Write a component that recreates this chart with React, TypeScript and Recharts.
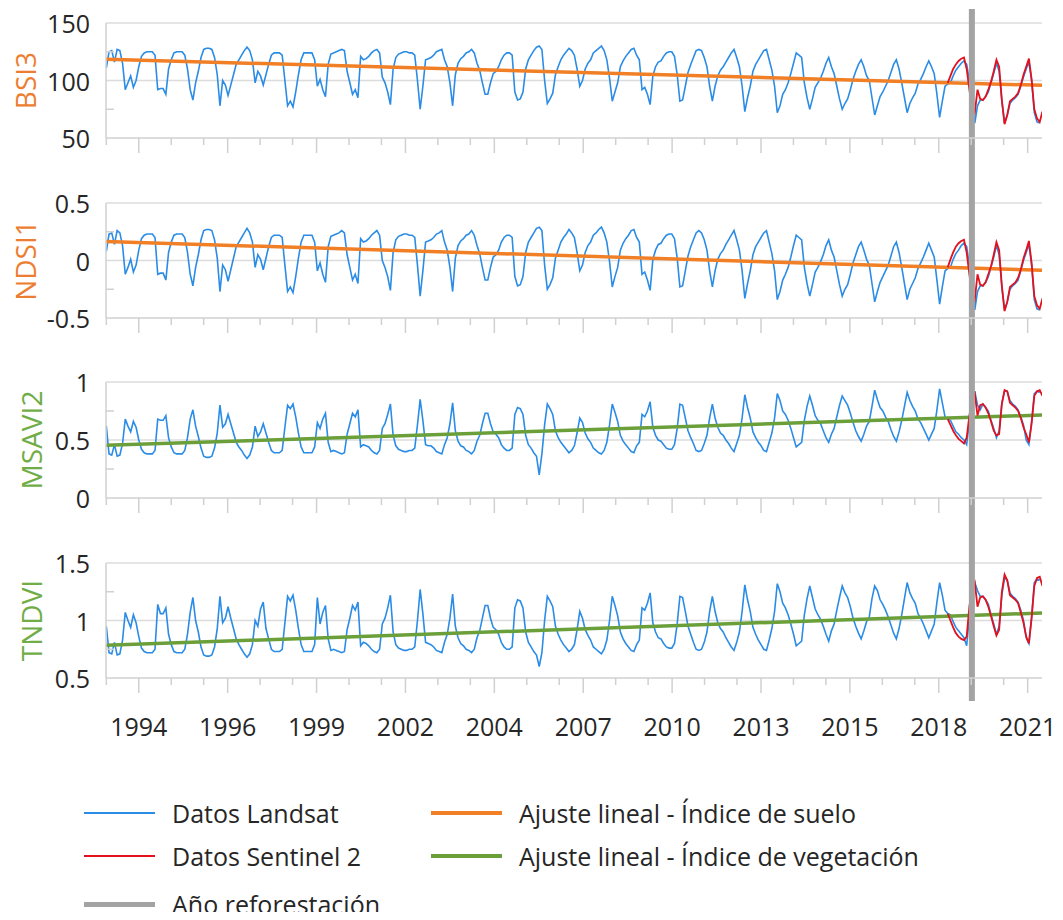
import React from "react";
import { LineChart, Line, XAxis, YAxis, CartesianGrid, ReferenceLine } from "recharts";

// monthly samples, Landsat from Jan 1993, Sentinel 2 from Dec 2018
const LANDSAT_START = 1993;
const SENTINEL_START = 2018 + 11 / 12;
const REFORESTATION_YEAR = 2019.66;

const bsi3Landsat = [
  111, 125, 126, 116, 127, 126, 115, 92, 98, 104, 94, 100,
  112, 121, 124, 125, 125, 125, 122, 92, 93, 93, 88, 110,
  118, 124, 125, 125, 125, 122, 110, 92, 83, 98, 108, 120,
  127, 128, 128, 127, 120, 105, 78, 100, 96, 87, 96, 105,
  114, 118, 122, 126, 129, 126, 118, 98, 108, 104, 96, 105,
  114, 122, 124, 124, 124, 122, 100, 78, 82, 77, 90, 105,
  118, 124, 124, 124, 124, 118, 95, 101, 92, 86, 114, 123,
  124, 125, 126, 127, 126, 108, 98, 88, 92, 85, 121, 118,
  119, 121, 124, 126, 127, 124, 103, 98, 90, 79, 110, 120,
  123, 124, 125, 125, 124, 124, 122, 100, 75, 95, 118, 119,
  120, 122, 125, 126, 127, 118, 112, 98, 78, 105, 115, 119,
  121, 124, 125, 127, 124, 115, 109, 98, 88, 88, 98, 106,
  108, 112, 118, 122, 124, 124, 122, 90, 83, 84, 90, 110,
  118, 122, 126, 129, 130, 127, 100, 80, 84, 89, 105, 112,
  118, 122, 125, 128, 126, 122, 110, 95, 100, 110, 115, 118,
  124, 126, 128, 130, 126, 118, 102, 82, 90, 98, 112, 117,
  121, 124, 127, 128, 122, 118, 92, 94, 88, 79, 104, 112,
  116, 117, 121, 124, 125, 125, 121, 105, 82, 83, 95, 107,
  114, 120, 126, 127, 126, 120, 112, 95, 82, 95, 104, 109,
  112, 116, 120, 124, 127, 120, 112, 95, 73, 85, 95, 108,
  114, 118, 122, 126, 127, 118, 109, 95, 72, 78, 88, 92,
  98, 106, 115, 124, 122, 120, 98, 85, 75, 84, 94, 98,
  102, 108, 115, 120, 112, 106, 95, 84, 75, 80, 84, 92,
  101, 108, 114, 118, 112, 104, 100, 85, 70, 78, 86, 90,
  95, 100, 107, 114, 118, 110, 98, 85, 72, 80, 85, 89,
  97, 101, 106, 112, 117, 112, 106, 88, 68, 82, 95, 97,
  98, 104, 109, 112, 115, 117, 114, 100, 83, 63, 78, 83,
  83, 86, 90, 98, 106, 115, 108, 82, 63, 70, 80, 83,
  85, 88, 95, 103, 110, 116, 100, 72, 64, 63,
];

const ndsi1Landsat = [
  0.08, 0.23, 0.24, 0.14, 0.26, 0.24, 0.13, -0.12, -0.06, 0.01, -0.1, -0.04,
  0.09, 0.19, 0.22, 0.23, 0.23, 0.23, 0.2, -0.12, -0.11, -0.11, -0.17, 0.07,
  0.16, 0.22, 0.23, 0.23, 0.23, 0.2, 0.07, -0.12, -0.22, -0.06, 0.05, 0.18,
  0.26, 0.27, 0.27, 0.26, 0.18, 0.02, -0.27, -0.04, -0.08, -0.18, -0.08, 0.02,
  0.12, 0.16, 0.2, 0.24, 0.28, 0.24, 0.16, -0.06, 0.05, 0.01, -0.08, 0.02,
  0.12, 0.2, 0.22, 0.22, 0.22, 0.2, -0.04, -0.27, -0.23, -0.28, -0.14, 0.02,
  0.16, 0.22, 0.22, 0.22, 0.22, 0.16, -0.09, -0.02, -0.12, -0.19, 0.12, 0.21,
  0.22, 0.23, 0.24, 0.26, 0.24, 0.05, -0.06, -0.17, -0.12, -0.2, 0.19, 0.16,
  0.17, 0.19, 0.22, 0.24, 0.26, 0.22, 0.0, -0.06, -0.14, -0.26, 0.07, 0.18,
  0.21, 0.22, 0.23, 0.23, 0.22, 0.22, 0.2, -0.04, -0.31, -0.09, 0.16, 0.17,
  0.18, 0.2, 0.23, 0.24, 0.26, 0.16, 0.09, -0.06, -0.27, 0.02, 0.13, 0.17,
  0.19, 0.22, 0.23, 0.26, 0.22, 0.13, 0.06, -0.06, -0.17, -0.17, -0.06, 0.03,
  0.05, 0.09, 0.16, 0.2, 0.22, 0.22, 0.2, -0.14, -0.22, -0.21, -0.14, 0.07,
  0.16, 0.2, 0.24, 0.28, 0.29, 0.26, -0.04, -0.25, -0.21, -0.15, 0.02, 0.09,
  0.16, 0.2, 0.23, 0.27, 0.24, 0.2, 0.07, -0.09, -0.04, 0.07, 0.13, 0.16,
  0.22, 0.24, 0.27, 0.29, 0.24, 0.16, -0.01, -0.23, -0.14, -0.06, 0.09, 0.15,
  0.19, 0.22, 0.26, 0.27, 0.2, 0.16, -0.12, -0.1, -0.17, -0.26, 0.01, 0.09,
  0.14, 0.15, 0.19, 0.22, 0.23, 0.23, 0.19, 0.02, -0.23, -0.22, -0.09, 0.04,
  0.12, 0.18, 0.24, 0.26, 0.24, 0.18, 0.09, -0.09, -0.23, -0.09, 0.01, 0.06,
  0.09, 0.14, 0.18, 0.22, 0.26, 0.18, 0.09, -0.09, -0.33, -0.2, -0.09, 0.05,
  0.12, 0.16, 0.2, 0.24, 0.26, 0.16, 0.06, -0.09, -0.34, -0.27, -0.17, -0.12,
  -0.06, 0.03, 0.13, 0.22, 0.2, 0.18, -0.06, -0.2, -0.31, -0.21, -0.1, -0.06,
  -0.01, 0.05, 0.13, 0.18, 0.09, 0.03, -0.09, -0.21, -0.31, -0.25, -0.21, -0.12,
  -0.02, 0.05, 0.12, 0.16, 0.09, 0.01, -0.04, -0.2, -0.36, -0.27, -0.19, -0.14,
  -0.09, -0.04, 0.04, 0.12, 0.16, 0.07, -0.06, -0.2, -0.34, -0.25, -0.2, -0.15,
  -0.07, -0.02, 0.03, 0.09, 0.15, 0.09, 0.03, -0.17, -0.38, -0.23, -0.09, -0.07,
  -0.06, 0.01, 0.06, 0.09, 0.13, 0.15, 0.12, -0.04, -0.22, -0.43, -0.27, -0.22,
  -0.22, -0.19, -0.14, -0.06, 0.03, 0.13, 0.05, -0.23, -0.43, -0.36, -0.25, -0.22,
  -0.2, -0.17, -0.09, 0.0, 0.07, 0.14, -0.04, -0.34, -0.42, -0.43,
];

const msavi2Landsat = [
  0.62, 0.38, 0.37, 0.46, 0.36, 0.37, 0.47, 0.68, 0.62, 0.57, 0.66, 0.61,
  0.5, 0.42, 0.39, 0.38, 0.38, 0.38, 0.41, 0.68, 0.67, 0.67, 0.71, 0.52,
  0.44, 0.39, 0.38, 0.38, 0.38, 0.41, 0.52, 0.68, 0.76, 0.62, 0.53, 0.43,
  0.36, 0.35, 0.35, 0.36, 0.43, 0.56, 0.8, 0.61, 0.64, 0.72, 0.64, 0.56,
  0.48, 0.44, 0.41, 0.37, 0.34, 0.37, 0.44, 0.62, 0.53, 0.57, 0.64, 0.56,
  0.48, 0.41, 0.39, 0.39, 0.39, 0.41, 0.61, 0.8, 0.77, 0.81, 0.7, 0.56,
  0.44, 0.39, 0.39, 0.39, 0.39, 0.44, 0.65, 0.6, 0.68, 0.73, 0.48, 0.4,
  0.41, 0.4, 0.39, 0.38, 0.39, 0.55, 0.64, 0.73, 0.7, 0.76, 0.44, 0.46,
  0.45, 0.44, 0.41, 0.39, 0.38, 0.41, 0.6, 0.64, 0.72, 0.81, 0.54, 0.45,
  0.42, 0.41, 0.4, 0.4, 0.41, 0.41, 0.43, 0.63, 0.85, 0.67, 0.46, 0.45,
  0.45, 0.43, 0.4, 0.39, 0.38, 0.46, 0.52, 0.64, 0.82, 0.58, 0.49, 0.45,
  0.44, 0.41, 0.4, 0.38, 0.41, 0.49, 0.54, 0.64, 0.73, 0.73, 0.64, 0.57,
  0.55, 0.52, 0.46, 0.43, 0.41, 0.41, 0.43, 0.72, 0.78, 0.77, 0.72, 0.54,
  0.46, 0.43, 0.39, 0.36, 0.2, 0.38, 0.63, 0.81, 0.77, 0.72, 0.58, 0.52,
  0.48, 0.45, 0.42, 0.39, 0.41, 0.45, 0.56, 0.69, 0.65, 0.56, 0.51, 0.48,
  0.43, 0.41, 0.39, 0.38, 0.41, 0.48, 0.63, 0.81, 0.74, 0.66, 0.54, 0.49,
  0.46, 0.43, 0.4, 0.39, 0.45, 0.48, 0.72, 0.7, 0.75, 0.83, 0.61, 0.54,
  0.5, 0.49, 0.46, 0.43, 0.42, 0.42, 0.46, 0.6, 0.81, 0.8, 0.69, 0.58,
  0.52, 0.47, 0.41, 0.4, 0.41, 0.47, 0.54, 0.69, 0.81, 0.69, 0.61, 0.56,
  0.54, 0.5, 0.47, 0.43, 0.4, 0.47, 0.54, 0.69, 0.89, 0.78, 0.69, 0.57,
  0.52, 0.48, 0.45, 0.41, 0.4, 0.48, 0.56, 0.69, 0.9, 0.84, 0.75, 0.72,
  0.67, 0.6, 0.52, 0.44, 0.46, 0.48, 0.67, 0.79, 0.88, 0.8, 0.71, 0.67,
  0.64, 0.58, 0.52, 0.48, 0.55, 0.6, 0.7, 0.8, 0.88, 0.84, 0.8, 0.73,
  0.65, 0.58, 0.53, 0.49, 0.55, 0.62, 0.66, 0.79, 0.93, 0.85, 0.78, 0.75,
  0.7, 0.66, 0.59, 0.53, 0.49, 0.57, 0.67, 0.79, 0.91, 0.84, 0.79, 0.75,
  0.68, 0.65, 0.6, 0.55, 0.5, 0.55, 0.6, 0.76, 0.94, 0.82, 0.7, 0.68,
  0.67, 0.62, 0.57, 0.55, 0.52, 0.5, 0.46, 0.66, 0.81, 0.92, 0.8, 0.76,
  0.81, 0.78, 0.75, 0.67, 0.6, 0.52, 0.58, 0.82, 0.92, 0.92, 0.84, 0.81,
  0.79, 0.76, 0.7, 0.63, 0.5, 0.46, 0.66, 0.9, 0.92, 0.91,
];

const tndviLandsat = [
  0.95, 0.72, 0.71, 0.81, 0.7, 0.71, 0.83, 1.07, 1.0, 0.94, 1.05, 0.98,
  0.86, 0.76, 0.73, 0.72, 0.72, 0.72, 0.75, 1.14, 1.06, 1.06, 1.11, 0.88,
  0.79, 0.73, 0.72, 0.72, 0.72, 0.75, 0.88, 1.07, 1.2, 1.0, 0.9, 0.77,
  0.7, 0.69, 0.69, 0.7, 0.77, 0.93, 1.21, 0.98, 1.02, 1.12, 1.02, 0.93,
  0.84, 0.79, 0.75, 0.71, 0.68, 0.71, 0.79, 1.0, 0.95, 1.1, 1.16, 0.93,
  0.84, 0.75, 0.73, 0.73, 0.73, 0.75, 0.98, 1.21, 1.17, 1.22, 1.09, 0.93,
  0.79, 0.73, 0.73, 0.73, 0.73, 0.79, 1.2, 0.97, 1.07, 1.13, 0.84, 0.74,
  0.75, 0.74, 0.73, 0.72, 0.73, 0.92, 1.02, 1.13, 1.09, 1.16, 0.78, 0.81,
  0.8, 0.78, 0.75, 0.73, 0.72, 0.75, 0.97, 1.02, 1.11, 1.22, 0.9, 0.79,
  0.76, 0.75, 0.74, 0.74, 0.75, 0.75, 0.77, 1.0, 1.27, 1.06, 0.81, 0.8,
  0.79, 0.77, 0.74, 0.73, 0.72, 0.81, 0.88, 1.02, 1.23, 0.95, 0.85, 0.8,
  0.78, 0.75, 0.74, 0.72, 0.75, 0.85, 0.91, 1.02, 1.13, 1.13, 1.02, 0.94,
  0.92, 0.88, 0.81, 0.77, 0.75, 0.75, 0.77, 1.11, 1.18, 1.17, 1.11, 0.9,
  0.81, 0.77, 0.73, 0.7, 0.6, 0.72, 1.0, 1.21, 1.17, 1.12, 0.95, 0.88,
  0.83, 0.79, 0.76, 0.73, 0.75, 0.79, 0.92, 1.08, 1.02, 0.92, 0.87, 0.83,
  0.77, 0.75, 0.73, 0.71, 0.75, 0.83, 1.0, 1.21, 1.13, 1.04, 0.9, 0.84,
  0.8, 0.77, 0.74, 0.73, 0.79, 0.83, 1.11, 1.09, 1.15, 1.24, 0.98, 0.9,
  0.85, 0.84, 0.8, 0.77, 0.76, 0.76, 0.8, 0.97, 1.21, 1.2, 1.08, 0.95,
  0.88, 0.81, 0.75, 0.74, 0.75, 0.81, 0.9, 1.08, 1.21, 1.08, 0.98, 0.93,
  0.9, 0.85, 0.81, 0.77, 0.74, 0.81, 0.9, 1.08, 1.31, 1.18, 1.08, 0.94,
  0.88, 0.83, 0.79, 0.75, 0.74, 0.83, 0.93, 1.08, 1.32, 1.25, 1.15, 1.11,
  1.05, 0.97, 0.88, 0.78, 0.8, 0.82, 1.05, 1.19, 1.3, 1.2, 1.1, 1.05,
  1.01, 0.95, 0.88, 0.82, 0.91, 0.97, 1.09, 1.2, 1.3, 1.24, 1.2, 1.12,
  1.02, 0.95, 0.89, 0.84, 0.91, 0.99, 1.03, 1.19, 1.3, 1.26, 1.18, 1.14,
  1.09, 1.03, 0.96, 0.89, 0.84, 0.93, 1.05, 1.19, 1.33, 1.24, 1.19, 1.15,
  1.06, 1.02, 0.97, 0.91, 0.85, 0.91, 0.97, 1.16, 1.33, 1.22, 1.09, 1.06,
  1.05, 0.99, 0.94, 0.91, 0.88, 0.85, 0.78, 1.03, 1.21, 1.33, 1.26, 1.21,
  1.21, 1.18, 1.14, 1.05, 0.97, 0.88, 0.95, 1.22, 1.37, 1.35, 1.24, 1.21,
  1.19, 1.16, 1.09, 1.0, 0.85, 0.8, 1.03, 1.33, 1.36, 1.35,
];

const bsi3Sentinel = [
  98,
  104, 110, 114, 117, 119, 120, 110, 92, 76, 72, 92, 84,
  83, 86, 92, 99, 108, 118, 112, 83, 62, 70, 82, 84,
  86, 89, 96, 105, 112, 119, 101, 75, 67, 64, 73,
];
const ndsi1Sentinel = [
  -0.06,
  0.01, 0.07, 0.12, 0.15, 0.17, 0.18, 0.07, -0.12, -0.29, -0.34, -0.12, -0.21,
  -0.22, -0.19, -0.12, -0.05, 0.05, 0.16, 0.09, -0.22, -0.44, -0.36, -0.23, -0.21,
  -0.19, -0.15, -0.08, 0.02, 0.09, 0.17, -0.02, -0.31, -0.39, -0.42, -0.33,
];
const msavi2Sentinel = [
  0.68,
  0.63, 0.58, 0.54, 0.51, 0.49, 0.47, 0.52, 0.71, 0.86, 0.9, 0.71, 0.8,
  0.81, 0.78, 0.73, 0.66, 0.58, 0.54, 0.55, 0.81, 0.93, 0.92, 0.82, 0.8,
  0.78, 0.75, 0.69, 0.61, 0.55, 0.48, 0.64, 0.88, 0.92, 0.93, 0.88,
];
const tndviSentinel = [
  1.06,
  1.0, 0.94, 0.89, 0.86, 0.84, 0.83, 0.86, 1.12, 1.28, 1.33, 1.12, 1.2,
  1.21, 1.18, 1.12, 1.04, 0.95, 0.87, 0.92, 1.25, 1.4, 1.35, 1.22, 1.2,
  1.18, 1.15, 1.07, 0.98, 0.86, 0.8, 1.02, 1.3, 1.37, 1.38, 1.3,
];

// linear fits, value at the start and at the end of the axis
const fitYears = [1992.99, 2021.82];
const bsi3Fit = [118.5, 95.8];
const ndsi1Fit = [0.165, -0.085];
const msavi2Fit = [0.455, 0.715];
const tndviFit = [0.785, 1.065];

// date axis: a major tick every 1000 days, minor ticks every 365 days
const tickYears = ["1994", "1996", "1999", "2002", "2004", "2007", "2010", "2013", "2015", "2018", "2021"];
const FIRST_MAJOR = 1994.0;
const X_DOMAIN: [number, number] = [1992.99, 2021.82];
const MAJOR_STEP = 1000 / 365.25;
const MINOR_STEP = 365 / 365.25;

const legendItems = [
  { label: "Datos Landsat", color: "#2B8CE6", size: 2, col: 0, row: 0 },
  { label: "Datos Sentinel 2", color: "#E3101E", size: 2, col: 0, row: 1 },
  { label: "Año reforestación", color: "#A3A3A3", size: 5, col: 0, row: 2 },
  { label: "Ajuste lineal - Índice de suelo", color: "#F07F26", size: 4, col: 1, row: 0 },
  { label: "Ajuste lineal - Índice de vegetación", color: "#6A9F3A", size: 4, col: 1, row: 1 },
];

const BLUE = "#2B8CE6";
const RED = "#E3101E";
const ORANGE = "#F07F26";
const GREEN = "#6A9F3A";
const GREY = "#A3A3A3";
const AXIS = "#D0D0D0";
const GRID = "#DCDCDC";
const TEXT = "#262626";
const FONT = "'Open Sans', sans-serif";

const CHART_W = 1063;
const PLOT_LEFT = 106;
const PLOT_RIGHT_GAP = 21;

const landsatDates = bsi3Landsat.map((_, i) => LANDSAT_START + i / 12);
const sentinelDates = bsi3Sentinel.map((_, i) => SENTINEL_START + i / 12);
const toRows = (dates: number[], values: number[]) => values.map((v, i) => ({ t: dates[i], v }));

const majorTicks = tickYears.map((_, k) => FIRST_MAJOR + k * MAJOR_STEP);
const minorTicks = [
  FIRST_MAJOR - MINOR_STEP,
  ...majorTicks.flatMap((m) => [m + MINOR_STEP, m + 2 * MINOR_STEP]),
].filter((t) => t >= X_DOMAIN[0] && t <= X_DOMAIN[1]);
const allTicks = [...majorTicks, ...minorTicks].sort((a, b) => a - b);

const panels = [
  {
    title: "BSI3", titleColor: "#ED7D31", titleX: 25,
    domain: [50, 150], ticks: [50, 75, 100, 125, 150], grid: [100, 150],
    landsat: bsi3Landsat, sentinel: bsi3Sentinel, fit: bsi3Fit, fitColor: ORANGE,
    height: 170, top: 23, axisH: 32, barBelow: 32, barAbove: 14,
  },
  {
    title: "NDSI1", titleColor: "#ED7D31", titleX: 25,
    domain: [-0.5, 0.5], ticks: [-0.5, -0.25, 0, 0.25, 0.5], grid: [0, 0.5],
    landsat: ndsi1Landsat, sentinel: ndsi1Sentinel, fit: ndsi1Fit, fitColor: ORANGE,
    height: 180, top: 33, axisH: 32, barBelow: 32, barAbove: 33,
  },
  {
    title: "MSAVI2", titleColor: "#70AD47", titleX: 31,
    domain: [0, 1], ticks: [0, 0.25, 0.5, 0.75, 1], grid: [0.5, 1],
    landsat: msavi2Landsat, sentinel: msavi2Sentinel, fit: msavi2Fit, fitColor: GREEN,
    height: 180, top: 32, axisH: 32, barBelow: 32, barAbove: 32,
  },
  {
    title: "TNDVI", titleColor: "#70AD47", titleX: 31,
    domain: [0.5, 1.5], ticks: [0.5, 0.75, 1, 1.25, 1.5], grid: [1, 1.5],
    landsat: tndviLandsat, sentinel: tndviSentinel, fit: tndviFit, fitColor: GREEN,
    height: 220, top: 33, axisH: 72, barBelow: 23, barAbove: 33,
  },
];

const XTick = (props: any) => {
  const { x, y, payload, showLabel } = props;
  const k = majorTicks.indexOf(payload.value);
  const major = k >= 0;
  return (
    <g>
      <line x1={x} x2={x} y1={y} y2={y + (major ? 15 : 7)} stroke={AXIS} strokeWidth={1.5} />
      {showLabel && major && (
        <text x={x} y={y + 58} textAnchor="middle" fill={TEXT} fontSize={25} fontFamily={FONT}>
          {tickYears[k]}
        </text>
      )}
    </g>
  );
};

const YTick = (props: any) => {
  const { y, payload, majors } = props;
  if (majors.includes(payload.value)) {
    return (
      <text x={PLOT_LEFT - 16} y={y} textAnchor="end" dominantBaseline="central" fill={TEXT} fontSize={25} fontFamily={FONT}>
        {String(payload.value)}
      </text>
    );
  }
  return <line x1={PLOT_LEFT} x2={PLOT_LEFT + 8} y1={y} y2={y} stroke={AXIS} strokeWidth={1.5} />;
};

function Panel({ p, last }: { p: (typeof panels)[number]; last: boolean }) {
  const plotH = p.height - p.top - p.axisH;
  const perPx = (p.domain[1] - p.domain[0]) / plotH;
  const barTop = p.domain[1] + p.barAbove * perPx;
  const barBottom = p.domain[0] - p.barBelow * perPx;
  const majors = [p.domain[0], ...p.grid];

  return (
    <LineChart width={CHART_W} height={p.height} margin={{ top: p.top, right: PLOT_RIGHT_GAP, bottom: 0, left: 0 }}>
      <CartesianGrid vertical={false} horizontalValues={p.grid} stroke={GRID} strokeWidth={1.5} />
      <XAxis
        type="number"
        dataKey="t"
        domain={X_DOMAIN}
        allowDataOverflow
        ticks={allTicks}
        interval={0}
        height={p.axisH}
        tickLine={false}
        tickSize={0}
        tickMargin={0}
        axisLine={{ stroke: AXIS, strokeWidth: 1.5 }}
        tick={<XTick showLabel={last} />}
      />
      <YAxis
        type="number"
        domain={p.domain}
        allowDataOverflow
        ticks={p.ticks}
        interval={0}
        width={PLOT_LEFT}
        tickLine={false}
        tickSize={0}
        tickMargin={16}
        axisLine={{ stroke: AXIS, strokeWidth: 1.5 }}
        tick={<YTick majors={majors} />}
        label={(lp: any) => {
          const cy = lp.viewBox.y + lp.viewBox.height / 2;
          return (
            <text
              x={p.titleX}
              y={cy}
              transform={`rotate(-90 ${p.titleX} ${cy})`}
              textAnchor="middle"
              dominantBaseline="central"
              fill={p.titleColor}
              fontSize={28}
              fontFamily={FONT}
            >
              {p.title}
            </text>
          );
        }}
      />
      <Line
        data={toRows(landsatDates, p.landsat)}
        dataKey="v"
        type="linear"
        stroke={BLUE}
        strokeWidth={1.6}
        dot={false}
        activeDot={false}
        isAnimationActive={false}
      />
      <Line
        data={toRows(fitYears, p.fit)}
        dataKey="v"
        type="linear"
        stroke={p.fitColor}
        strokeWidth={3.5}
        dot={false}
        activeDot={false}
        isAnimationActive={false}
      />
      <Line
        data={toRows(sentinelDates, p.sentinel)}
        dataKey="v"
        type="linear"
        stroke={RED}
        strokeWidth={1.8}
        dot={false}
        activeDot={false}
        isAnimationActive={false}
      />
      <ReferenceLine
        segment={[
          { x: REFORESTATION_YEAR, y: barBottom },
          { x: REFORESTATION_YEAR, y: barTop },
        ]}
        stroke={GREY}
        strokeWidth={6}
        ifOverflow="visible"
      />
    </LineChart>
  );
}

export default function App() {
  const colX = [84, 431];
  const rowY = [63, 106, 154];
  return (
    <div
      style={{
        position: "relative",
        margin: -8,
        width: CHART_W,
        height: 920,
        overflow: "hidden",
        fontFamily: FONT,
        background: "#fff",
      }}
    >
      {panels.map((p, i) => (
        <Panel key={p.title} p={p} last={i === panels.length - 1} />
      ))}
      <div style={{ position: "relative", height: 170 }}>
        {legendItems.map((it) => (
          <div
            key={it.label}
            style={{
              position: "absolute",
              left: colX[it.col],
              top: rowY[it.row] - 14,
              height: 28,
              display: "flex",
              alignItems: "center",
              whiteSpace: "nowrap",
            }}
          >
            <div style={{ width: 71, height: it.size, background: it.color }} />
            <span style={{ marginLeft: 17, fontSize: 25, lineHeight: "28px", color: TEXT }}>{it.label}</span>
          </div>
        ))}
      </div>
    </div>
  );
}
